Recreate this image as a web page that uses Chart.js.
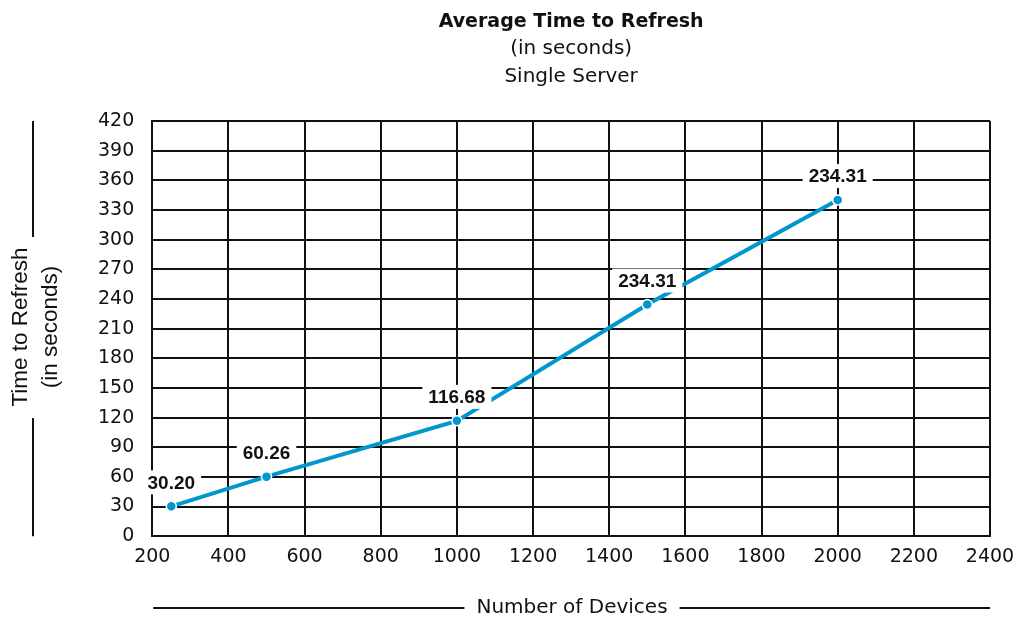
<!DOCTYPE html>
<html>
<head>
<meta charset="utf-8">
<script src="https://cdn.jsdelivr.net/npm/chart.js@4"></script>
<style>
html,body{margin:0;padding:0;background:#fff;}
#wrap{width:1016px;height:621px;}
</style>
</head>
<body>
<div id="wrap"><canvas id="c" width="1016" height="621"></canvas></div>
<script>
const devices = [250, 500, 1000, 1500, 2000];
const refreshTimes = [30.20, 60.26, 116.68, 234.31, 340];
const pointLabels = ["30.20", "60.26", "116.68", "234.31", "234.31"];
const titleText = "Average Time to Refresh";
const subtitleText = ["(in seconds)", "Single Server"];
const yTitle = ["Time to Refresh", "(in seconds)"];
const xTitle = "Number of Devices";

const FONT = "'DejaVu Sans', sans-serif";
const NFONT = "'Liberation Sans', Arial, sans-serif";
const LINE = "#0097cf";

const labelPlugin = {
  id: 'pointLabels',
  afterDatasetsDraw(chart) {
    const ctx = chart.ctx;
    const meta = chart.getDatasetMeta(0);
    ctx.save();
    ctx.font = "bold 19px " + NFONT;
    ctx.textAlign = 'center';
    ctx.textBaseline = 'middle';
    meta.data.forEach((pt, i) => {
      const txt = pointLabels[i];
      const x = pt.x;
      const y = pt.y - 24;
      const w = ctx.measureText(txt).width + 12;
      ctx.fillStyle = '#fff';
      ctx.fillRect(x - w / 2, y - 12, w, 24);
      ctx.fillStyle = '#111';
      ctx.fillText(txt, x, y + 1);
    });
    ctx.restore();
  }
};

const axisTitlePlugin = {
  id: 'axisTitles',
  afterDraw(chart) {
    const ctx = chart.ctx;
    const a = chart.chartArea;
    ctx.save();
    ctx.fillStyle = '#111';
    ctx.strokeStyle = '#111';
    ctx.lineWidth = 2;
    // x title
    ctx.font = "20px " + FONT;
    const xy = 608;
    const cx = 572;
    ctx.textAlign = 'center';
    ctx.textBaseline = 'middle';
    ctx.fillText(xTitle, cx, xy);
    const tw = ctx.measureText(xTitle).width;
    ctx.beginPath();
    ctx.moveTo(a.left + 1, xy); ctx.lineTo(cx - tw / 2 - 12, xy);
    ctx.moveTo(cx + tw / 2 + 12, xy); ctx.lineTo(a.right, xy);
    ctx.stroke();
    // y title
    ctx.font = "22.5px " + NFONT;
    ctx.textBaseline = 'alphabetic';
    const cy = 327;
    ctx.save();
    ctx.translate(27, cy);
    ctx.rotate(-Math.PI / 2);
    ctx.fillText(yTitle[0], 0, 0);
    ctx.fillText(yTitle[1], 0, 30);
    ctx.restore();
    ctx.beginPath();
    ctx.moveTo(33, a.top); ctx.lineTo(33, 237);
    ctx.moveTo(33, 418); ctx.lineTo(33, a.bottom);
    ctx.stroke();
    ctx.restore();
  }
};

new Chart(document.getElementById('c'), {
  type: 'line',
  data: {
    datasets: [{
      data: devices.map((d, i) => ({x: d, y: refreshTimes[i]})),
      borderColor: LINE,
      borderWidth: 4,
      backgroundColor: LINE,
      pointRadius: 5,
      pointBorderColor: '#fff',
      pointBorderWidth: 1.5,
      tension: 0
    }]
  },
  options: {
    responsive: false,
    animation: false,
    events: [],
    layout: {padding: {left: 80, right: 26, top: 0, bottom: 44}},
    plugins: {
      legend: {display: false},
      tooltip: {enabled: false},
      title: {
        display: true, text: titleText, color: '#111', fullSize: false,
        font: {family: FONT, size: 19, weight: 'bold'},
        padding: {top: 11, bottom: 1.2}
      },
      subtitle: {
        display: true, text: subtitleText, color: '#111', fullSize: false,
        font: {family: FONT, size: 20, lineHeight: 1.4},
        padding: {top: 0, bottom: 30}
      }
    },
    scales: {
      x: {
        type: 'linear', min: 200, max: 2400,
        afterFit(s) { s.paddingRight = 0; s.paddingLeft = 0; },
        ticks: {stepSize: 200, color: '#111', font: {family: FONT, size: 19}, padding: 9, maxRotation: 0,
                callback: v => String(v)},
        grid: {color: '#111', lineWidth: 2, drawTicks: false},
        border: {color: '#111', width: 2}
      },
      y: {
        min: 0, max: 420,
        ticks: {stepSize: 30, color: '#111', font: {family: FONT, size: 19}, padding: 18},
        grid: {color: '#111', lineWidth: 2, drawTicks: false},
        border: {color: '#111', width: 2}
      }
    }
  },
  plugins: [labelPlugin, axisTitlePlugin]
});
</script>
</body>
</html>
